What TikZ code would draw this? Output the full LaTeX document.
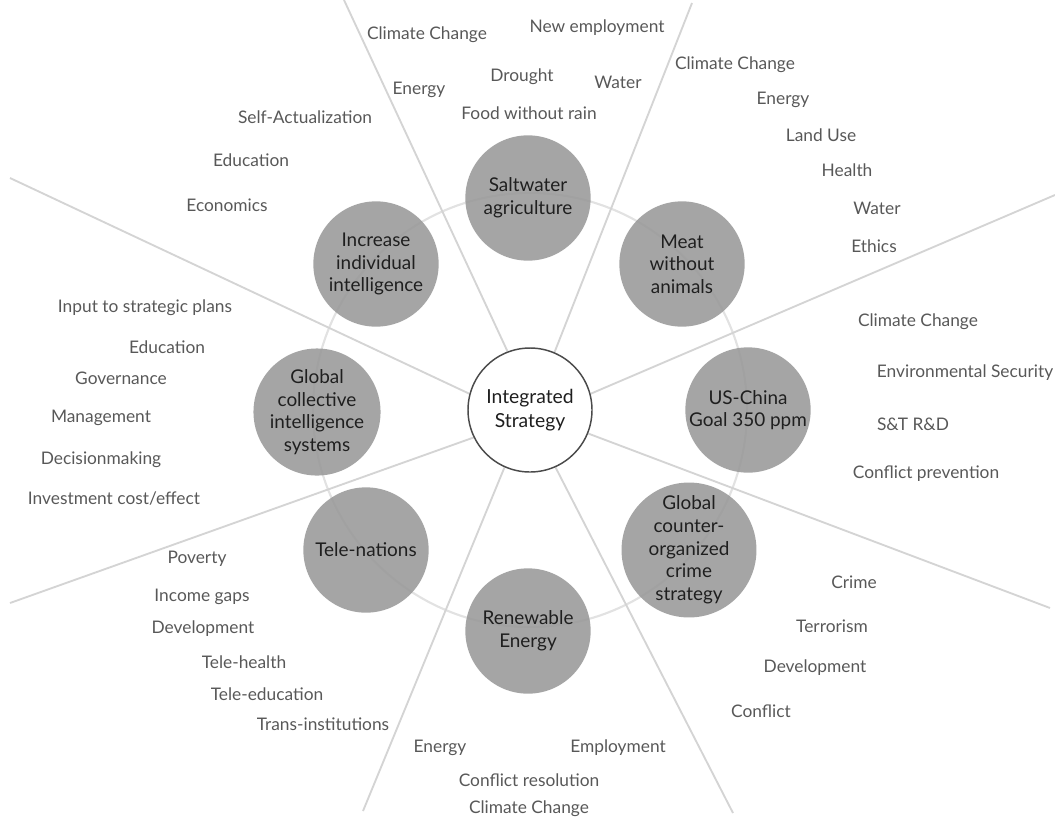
\documentclass[tikz,border=0pt]{standalone}
\usepackage{fontspec}
\setmainfont{Lato}
\usetikzlibrary{backgrounds}
\definecolor{ballgray}{HTML}{999999}
\definecolor{spokegray}{HTML}{D4D4D4}
\definecolor{ringgray}{HTML}{E2E2E2}
\definecolor{labelgray}{HTML}{585858}
\definecolor{hubline}{HTML}{4A4A4A}

\begin{document}
\begin{tikzpicture}[x=0.75pt, y=-0.75pt,
    topic/.style={circle, fill=ballgray, fill opacity=0.88, text opacity=1, text=black!88, minimum size=94pt, inner sep=0pt, align=center, font=\fontsize{14.2}{17}\selectfont},
    hub/.style={circle, draw=hubline, line width=1.1pt, fill=white, text=black!88, minimum size=93pt, inner sep=0pt, align=center, font=\fontsize{14.5}{18}\selectfont},
    item/.style={text=labelgray, inner sep=0pt, font=\fontsize{13}{15}\selectfont},
    spoke/.style={draw=spokegray, line width=1.4pt},
    ring/.style={draw=ringgray, line width=1.6pt}]
    \useasboundingbox (0,0) rectangle (1055,822);
    % Centre and the eight strategies
    \node[hub] (hub) at (530,410) {Integrated\\Strategy};
    \node[topic] (salt) at (528,198) {Saltwater\\agriculture};
    \node[topic] (meat) at (682,264) {Meat\\without\\animals};
    \node[topic] (usch) at (748,410) {US-China\\Goal 350 ppm};
    \node[topic] (crime) at (689,550) {Global\\counter-\\organized\\crime\\strategy};
    \node[topic] (renew) at (528,631) {Renewable\\Energy};
    \node[topic] (tele) at (366,550) {Tele-nations};
    \node[topic] (coll) at (317,412) {Global\\collective\\intelligence\\systems};
    \node[topic] (incr) at (376,264) {Increase\\individual\\intelligence};

    % Saltwater agriculture
    \node[item] (s1) at (427,35) {Climate Change};
    \node[item] (s2) at (597,28) {New employment};
    \node[item] (s3) at (419,90) {Energy};
    \node[item] (s4) at (522,77) {Drought};
    \node[item] (s5) at (618,82) {Water};
    \node[item] (s6) at (529,113) {Food without rain};
    % Meat without animals
    \node[item] (m1) at (735,65) {Climate Change};
    \node[item] (m2) at (783,100) {Energy};
    \node[item] (m3) at (821,135) {Land Use};
    \node[item] (m4) at (847,170) {Health};
    \node[item] (m5) at (877,208) {Water};
    \node[item] (m6) at (874,246) {Ethics};
    % US-China
    \node[item] (u1) at (918,322) {Climate Change};
    \node[item] (u2) at (965,373) {Environmental Security};
    \node[item] (u3) at (913,424) {S\&T R\&D};
    \node[item] (u4) at (926,474) {Conflict prevention};
    % Organized crime
    \node[item] (c1) at (854,582) {Crime};
    \node[item] (c2) at (832,626) {Terrorism};
    \node[item] (c3) at (815,668) {Development};
    \node[item] (c4) at (761,711) {Conflict};
    % Renewable energy
    \node[item] (r1) at (440,748) {Energy};
    \node[item] (r2) at (618,748) {Employment};
    \node[item] (r3) at (529,780) {Conflict resolution};
    \node[item] (r4) at (529,809) {Climate Change};
    % Tele-nations
    \node[item] (t1) at (197,559) {Poverty};
    \node[item] (t2) at (202,597) {Income gaps};
    \node[item] (t3) at (203,629) {Development};
    \node[item] (t4) at (244,662) {Tele-health};
    \node[item] (t5) at (267,694) {Tele-education};
    \node[item] (t6) at (323,724) {Trans-institutions};
    % Collective intelligence
    \node[item] (g1) at (145,308) {Input to strategic plans};
    \node[item] (g2) at (167,347) {Education};
    \node[item] (g3) at (121,378) {Governance};
    \node[item] (g4) at (101,418) {Management};
    \node[item] (g5) at (101,460) {Decisionmaking};
    \node[item] (g6) at (114,498) {Investment cost/effect};
    % Individual intelligence
    \node[item] (i1) at (305,117) {Self-Actualization};
    \node[item] (i2) at (251,160) {Education};
    \node[item] (i3) at (227,205) {Economics};

    % ring through the strategies, spokes between them
    \begin{scope}[on background layer]
        \coordinate (e1) at (344,0);
        \coordinate (e2) at (692,3);
        \coordinate (e3) at (1055,195);
        \coordinate (e4) at (1050,608);
        \coordinate (e5) at (733,813);
        \coordinate (e6) at (363,811);
        \coordinate (e7) at (10,603);
        \coordinate (e8) at (10,178);
        \draw[ring] (hub.center) circle[radius=217];
        \draw[spoke] (hub.111) -- (e1);
        \draw[spoke] (hub.67) -- (e2);
        \draw[spoke] (hub.15) -- (e3);
        \draw[spoke] (hub.-22) -- (e4);
        \draw[spoke] (hub.-66) -- (e5);
        \draw[spoke] (hub.-114) -- (e6);
        \draw[spoke] (hub.206) -- (e7);
        \draw[spoke] (hub.165) -- (e8);
    \end{scope}
\end{tikzpicture}
\end{document}
